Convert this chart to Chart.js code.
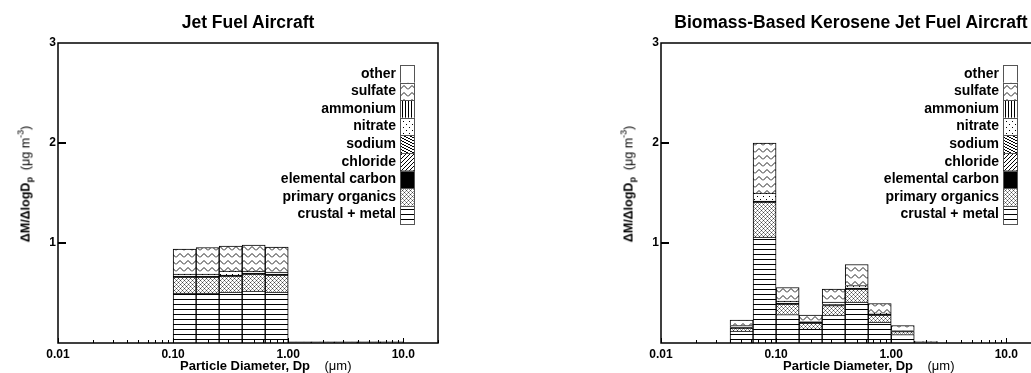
<!DOCTYPE html>
<html>
<head>
<meta charset="utf-8">
<script src="https://cdn.jsdelivr.net/npm/chart.js@4/dist/chart.umd.min.js"></script>
<style>
  body { margin: 0; width: 1031px; height: 373px; overflow: hidden; background: #fff;
         font-family: "Liberation Sans", Arial, Helvetica, sans-serif; color: #000; }
  .panel { position: absolute; top: 0; width: 520px; height: 373px; }
  .panel canvas { position: absolute; left: 0; top: 0; }
  .title { position: absolute; left: 48px; width: 400px; top: 12px; text-align: center;
           font-weight: bold; font-size: 17.5px; line-height: 20px; white-space: nowrap; }
  .xtitle { position: absolute; left: 180px; top: 358px; font-size: 13px; line-height: 15px;
            white-space: nowrap; }
  .xtitle b { font-weight: bold; }
  .ytitle { position: absolute; left: 25px; top: 184px; font-size: 12.5px; line-height: 14px;
            white-space: nowrap; transform: translate(-50%, -50%) rotate(-90deg); }
  .ytitle sub { font-size: 9px; vertical-align: -3px; }
  .ytitle sup { font-size: 9px; vertical-align: 6px; }
</style>
</head>
<body>
<div class="panel" style="left:0px">
  <canvas id="jetChart" width="520" height="373"></canvas>
  <div class="title">Jet Fuel Aircraft</div>
  <div class="ytitle"><b>ΔM/ΔlogD<sub>p</sub></b>&nbsp;&nbsp;(μg m<sup>-3</sup>)</div>
  <div class="xtitle"><b>Particle Diameter, Dp</b>&nbsp;&nbsp;&nbsp;&nbsp;(μm)</div>
</div>
<div class="panel" style="left:603px">
  <canvas id="bioChart" width="520" height="373"></canvas>
  <div class="title">Biomass-Based Kerosene Jet Fuel Aircraft</div>
  <div class="ytitle"><b>ΔM/ΔlogD<sub>p</sub></b>&nbsp;&nbsp;(μg m<sup>-3</sup>)</div>
  <div class="xtitle"><b>Particle Diameter, Dp</b>&nbsp;&nbsp;&nbsp;&nbsp;(μm)</div>
</div>
<script>
// bin centre diameters (um), 0.2 decade wide bins
const binCenters = [0.0501, 0.0794, 0.1259, 0.1995, 0.3162, 0.5012, 0.7943, 1.2589, 1.9953, 3.1623, 5.0119, 7.9433];
const xTickValues = [0.01, 0.1, 1, 10];
const xTickLabels = ['0.01', '0.10', '1.00', '10.0'];
const speciesNames = ['crustal + metal', 'primary organics', 'elemental carbon', 'chloride', 'sodium', 'nitrate', 'ammonium', 'sulfate', 'other'];

// Jet Fuel Aircraft
const jetCrustal   = [0, 0, 0.50, 0.50, 0.51, 0.52, 0.51, 0.008, 0.008, 0.008, 0.008, 0.008];
const jetOrganics  = [0, 0, 0.16, 0.16, 0.16, 0.17, 0.17, 0, 0, 0, 0, 0];
const jetEC        = [0, 0, 0.01, 0.01, 0.01, 0.01, 0.01, 0, 0, 0, 0, 0];
const jetChloride  = [0, 0, 0, 0, 0, 0, 0, 0, 0, 0, 0, 0];
const jetSodium    = [0, 0, 0, 0, 0, 0, 0, 0, 0, 0, 0, 0];
const jetNitrate   = [0, 0, 0.02, 0.02, 0.04, 0.02, 0.02, 0, 0, 0, 0, 0];
const jetAmmonium  = [0, 0, 0, 0, 0, 0, 0, 0, 0, 0, 0, 0];
const jetSulfate   = [0, 0, 0.25, 0.265, 0.25, 0.26, 0.25, 0.004, 0.004, 0.004, 0.004, 0.004];
const jetOther     = [0, 0, 0, 0, 0, 0, 0, 0, 0, 0, 0, 0];

// Biomass-Based Kerosene Jet Fuel Aircraft
const bioCrustal   = [0.12, 1.06, 0.285, 0.14, 0.28, 0.41, 0.21, 0.085, 0.01, 0, 0, 0];
const bioOrganics  = [0.03, 0.35, 0.105, 0.06, 0.095, 0.13, 0.07, 0.03, 0, 0, 0, 0];
const bioEC        = [0.005, 0.01, 0.01, 0.01, 0.01, 0.01, 0.01, 0.005, 0, 0, 0, 0];
const bioChloride  = [0, 0, 0, 0, 0, 0, 0, 0, 0, 0, 0, 0];
const bioSodium    = [0, 0, 0, 0, 0, 0, 0, 0, 0, 0, 0, 0];
const bioNitrate   = [0.02, 0.08, 0.02, 0.005, 0.025, 0.025, 0.01, 0.005, 0, 0, 0, 0];
const bioAmmonium  = [0, 0, 0, 0, 0, 0, 0, 0, 0, 0, 0, 0];
const bioSulfate   = [0.055, 0.50, 0.135, 0.065, 0.13, 0.21, 0.095, 0.05, 0.006, 0, 0, 0];
const bioOther     = [0, 0, 0, 0, 0, 0, 0, 0, 0, 0, 0, 0];

const FONT = '"Liberation Sans", Arial, Helvetica, sans-serif';

function makePattern(w, h, draw) {
  const c = document.createElement('canvas');
  c.width = w; c.height = h;
  const g = c.getContext('2d');
  g.fillStyle = '#fff';
  g.fillRect(0, 0, w, h);
  g.fillStyle = '#000';
  g.strokeStyle = '#000';
  draw(g);
  return g.createPattern(c, 'repeat');
}

const patterns = [
  // crustal + metal: horizontal lines
  makePattern(6, 5, g => g.fillRect(0, 4, 6, 1)),
  // primary organics: crosshatch
  makePattern(4, 4, g => {
    g.fillStyle = '#444';
    g.fillRect(0, 0, 1, 1); g.fillRect(2, 2, 1, 1);
    g.fillStyle = '#999';
    g.fillRect(1, 1, 1, 1); g.fillRect(3, 3, 1, 1); g.fillRect(3, 1, 1, 1); g.fillRect(1, 3, 1, 1);
  }),
  // elemental carbon: solid
  '#000',
  // chloride: / lines
  makePattern(4, 4, g => { for (let i = 0; i < 4; i++) g.fillRect(3 - i, i, 1, 1); }),
  // sodium: shallow \ lines
  makePattern(6, 3, g => { for (let i = 0; i < 3; i++) g.fillRect(2 * i, i, 2, 1); }),
  // nitrate: dots
  makePattern(6, 6, g => { g.fillRect(1, 1, 1, 1); g.fillRect(4, 4, 1, 1); }),
  // ammonium: vertical lines
  makePattern(3, 1, g => g.fillRect(0, 0, 1, 1)),
  // sulfate: zigzag
  makePattern(8, 7, g => {
    g.lineWidth = 1; g.strokeStyle = '#222';
    g.beginPath(); g.moveTo(0, 5.5); g.lineTo(4, 1.5); g.lineTo(8, 5.5); g.stroke();
  }),
  // other: blank
  '#fff'
];

const framePlugin = {
  id: 'frame',
  afterDraw(chart) {
    const ctx = chart.ctx;
    const a = chart.chartArea;
    const xs = chart.scales.x, ys = chart.scales.y;
    ctx.save();
    ctx.strokeStyle = '#000';
    // inner y ticks
    ctx.lineWidth = 2;
    [1, 2].forEach(v => {
      const y = Math.round(ys.getPixelForValue(v));
      ctx.beginPath(); ctx.moveTo(a.left, y); ctx.lineTo(a.left + 8, y); ctx.stroke();
    });
    // inner x ticks (log minors)
    ctx.lineWidth = 1;
    for (let d = 0.01; d < 20; d *= 10) {
      for (let m = 1; m <= 9; m++) {
        const v = d * m;
        if (v > 20) break;
        const x = Math.round(xs.getPixelForValue(v)) + 0.5;
        const len = m === 1 ? 5 : 3;
        ctx.beginPath(); ctx.moveTo(x, a.bottom); ctx.lineTo(x, a.bottom - len); ctx.stroke();
      }
    }
    // frame
    ctx.lineWidth = 1.5;
    ctx.strokeRect(a.left, a.top, a.right - a.left, a.bottom - a.top);

    // legend
    const boxR = a.right - 23, boxL = boxR - 15;
    const rowH = 17.6, top0 = 65;
    ctx.font = 'bold 14px ' + FONT;
    ctx.textAlign = 'right';
    ctx.textBaseline = 'middle';
    for (let r = 0; r < speciesNames.length; r++) {
      const idx = speciesNames.length - 1 - r;
      const yTop = top0 + r * rowH;
      ctx.fillStyle = patterns[idx];
      ctx.fillRect(boxL, yTop, boxR - boxL, rowH);
      ctx.strokeStyle = '#555';
      ctx.lineWidth = 1;
      ctx.strokeRect(boxL + 0.5, Math.round(yTop) + 0.5, boxR - boxL - 1, Math.round(rowH));
      ctx.fillStyle = '#000';
      ctx.fillText(speciesNames[idx], boxL - 4, yTop + rowH / 2);
    }
    ctx.restore();
  }
};

function buildChart(id, series) {
  const datasets = series.map((vals, i) => ({
    label: speciesNames[i],
    data: vals.map((v, j) => ({ x: binCenters[j], y: v })),
    backgroundColor: patterns[i],
    borderColor: '#000',
    borderWidth: 1,
    categoryPercentage: 1,
    barPercentage: 1
  }));
  return new Chart(document.getElementById(id).getContext('2d'), {
    type: 'bar',
    data: { datasets: datasets },
    options: {
      responsive: false,
      animation: false,
      devicePixelRatio: 1,
      layout: { padding: { left: 0, right: 82, top: 43, bottom: 0 } },
      plugins: { legend: { display: false }, tooltip: { enabled: false }, title: { display: false } },
      scales: {
        x: {
          type: 'logarithmic',
          stacked: true,
          offset: false,
          min: 0.01,
          max: 20,
          grid: { display: false, drawTicks: false },
          border: { display: false },
          afterBuildTicks: scale => { scale.ticks = xTickValues.map(v => ({ value: v })); },
          afterFit: scale => { scale.height = 30; },
          ticks: {
            autoSkip: false,
            maxRotation: 0,
            padding: 4,
            color: '#000',
            font: { family: FONT, size: 12, weight: 'bold' },
            callback: (v, i) => xTickLabels[i]
          }
        },
        y: {
          stacked: true,
          min: 0,
          max: 3,
          grid: { display: false, drawTicks: false },
          border: { display: false },
          afterFit: scale => { scale.width = 58; },
          ticks: {
            stepSize: 1,
            padding: 2,
            color: '#000',
            font: { family: FONT, size: 12, weight: 'bold' },
            callback: v => (v === 0 ? '' : String(v))
          }
        }
      }
    },
    plugins: [framePlugin]
  });
}

buildChart('jetChart', [jetCrustal, jetOrganics, jetEC, jetChloride, jetSodium, jetNitrate, jetAmmonium, jetSulfate, jetOther]);
buildChart('bioChart', [bioCrustal, bioOrganics, bioEC, bioChloride, bioSodium, bioNitrate, bioAmmonium, bioSulfate, bioOther]);
</script>
</body>
</html>
